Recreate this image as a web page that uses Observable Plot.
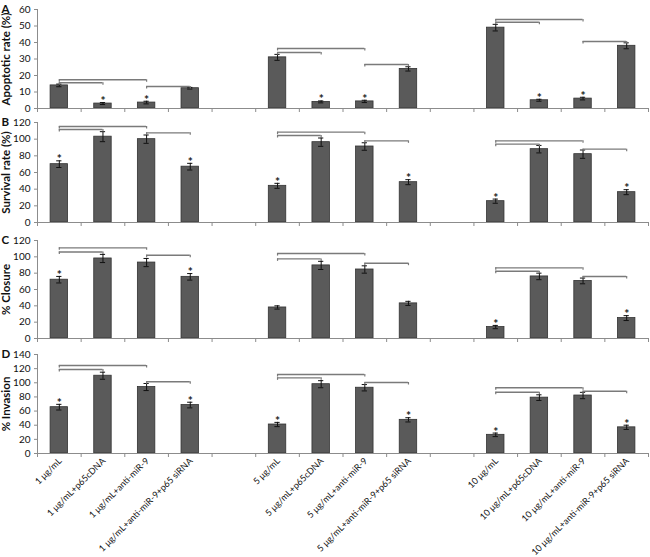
<!DOCTYPE html>
<html><head><meta charset="utf-8">
<script src="https://cdn.jsdelivr.net/npm/d3@7"></script>
<script src="https://cdn.jsdelivr.net/npm/@observablehq/plot@0.6"></script>
<style>
body{margin:0;background:#fff;}
#chart{width:650px;}
#chart svg{display:block;}
</style>
</head><body><div id="chart"></div>
<script>
// ---- data ----
const categories = [
  "1 μg/mL", "1 μg/mL+p65cDNA", "1 μg/mL+anti-miR-9", "1 μg/mL+anti-miR-9+p65 siRNA",
  "5 μg/mL", "5 μg/mL+p65cDNA", "5 μg/mL+anti-miR-9", "5 μg/mL+anti-miR-9+p65 siRNA",
  "10 μg/mL", "10 μg/mL+p65cDNA", "10 μg/mL+anti-miR-9", "10 μg/mL+anti-miR-9+p65 siRNA"
];

const apoptoticValues = [14, 3, 3.6, 12.3, 31, 4, 4.3, 24, 49, 5, 6, 38];
const apoptoticErrors = [0.8, 0.6, 0.8, 0.5, 1.8, 0.6, 0.7, 1.3, 2, 0.6, 0.8, 1.8];
const apoptoticStars = [1, 2, 5, 6, 9, 10];
const apoptoticBrackets = [[0, 2, 17.4], [0, 1, 15.6], [2, 3, 13.3], [4, 6, 36.4], [4, 5, 33.9], [6, 7, 26.7], [8, 10, 53.9], [8, 9, 52.3], [10, 11, 40.6]];
const apoptoticTicks = [0, 10, 20, 30, 40, 50, 60];

const survivalValues = [70, 103, 100, 67, 44, 96.4, 91.2, 48.4, 25.6, 88, 82, 36.4];
const survivalErrors = [4, 6, 5, 4, 3, 5, 4.5, 3, 2.5, 4.5, 5, 3];
const survivalStars = [0, 3, 4, 7, 8, 11];
const survivalBrackets = [[0, 2, 115.2], [0, 1, 111.6], [2, 3, 107.6], [4, 6, 108.4], [4, 5, 104.4], [6, 7, 98], [8, 10, 98], [8, 9, 94], [10, 11, 88]];
const survivalTicks = [0, 20, 40, 60, 80, 100, 120];

const closureValues = [72, 98, 93, 75.5, 38, 89.5, 84.5, 43, 14, 76, 70.5, 25];
const closureErrors = [4, 5, 5, 4, 2, 5, 4.5, 2.5, 2, 4, 3.5, 3];
const closureStars = [0, 3, 8, 11];
const closureBrackets = [[0, 2, 111], [0, 1, 106], [2, 3, 102], [4, 6, 104], [4, 5, 97.5], [6, 7, 92.2], [8, 10, 86.5], [8, 9, 82.4], [10, 11, 75.9]];
const closureTicks = [0, 20, 40, 60, 80, 100, 120];

const invasionValues = [65.5, 110, 94, 68.5, 41, 98, 93, 47.6, 26.4, 79, 82, 37];
const invasionErrors = [4, 5, 5, 4, 3, 5, 4.5, 3, 2.5, 4, 4.5, 3];
const invasionStars = [0, 3, 4, 7, 8, 11];
const invasionBrackets = [[0, 2, 124.5], [0, 1, 118.8], [2, 3, 101.4], [4, 6, 111.7], [4, 5, 107], [6, 7, 100.4], [8, 10, 92.9], [8, 9, 86.7], [10, 11, 88.1]];
const invasionTicks = [0, 20, 40, 60, 80, 100, 120, 140];

// ---- layout helpers ----
const slot = i => Math.floor(i / 4) * 5 + (i % 4) + 1;   // 3 groups of 4 with one blank slot between
const boundaries = d3.range(0.5, 14.6, 1);
const axisGray = "#8c8c8c";
const font = "Lato, 'Liberation Sans', sans-serif";

function panel({letter, title, values, errors, stars, brackets, yTicks, marginTop, marginBottom, height, labels}) {
  const data = categories.map((c, i) => ({cat: c, pos: slot(i), v: values[i], e: errors[i], star: stars.includes(i)}));
  const br = brackets.map(([a, b, y]) => ({x1: slot(a), x2: slot(b), y}));
  const marks = [
    Plot.rectY(data, {x1: d => d.pos - 0.2, x2: d => d.pos + 0.2, y1: 0, y2: "v", fill: "#5a5a5a", stroke: "#333", strokeWidth: 0.8}),
    Plot.ruleX(data, {x: "pos", y1: d => d.v - d.e, y2: d => d.v + d.e, stroke: "#111", strokeWidth: 1}),
    Plot.ruleY(data, {y: d => d.v + d.e, x1: d => d.pos - 0.06, x2: d => d.pos + 0.06, stroke: "#111", strokeWidth: 1}),
    Plot.ruleY(data, {y: d => d.v - d.e, x1: d => d.pos - 0.06, x2: d => d.pos + 0.06, stroke: "#111", strokeWidth: 1}),
    Plot.text(data.filter(d => d.star), {x: "pos", y: d => d.v + d.e, text: () => "*", lineAnchor: "bottom", dy: 2.5, fontSize: 12, fontWeight: "bold", fill: "#222"}),
    Plot.ruleY(br, {y: "y", x1: "x1", x2: "x2", stroke: "#7a7a7a", strokeWidth: 1.4}),
    Plot.ruleX(br, {x: "x1", y1: "y", y2: "y", insetBottom: -2.5, stroke: "#7a7a7a", strokeWidth: 1.2}),
    Plot.ruleX(br, {x: "x2", y1: "y", y2: "y", insetBottom: -2.5, stroke: "#7a7a7a", strokeWidth: 1.2}),
    Plot.ruleY([0], {stroke: axisGray}),
    Plot.ruleX([0.5], {stroke: axisGray}),
    Plot.axisX(boundaries, {tickFormat: () => "", tickSize: 4, stroke: axisGray, label: null}),
    Plot.axisY(yTicks, {tickSize: 3, tickPadding: 4, fontSize: 10, stroke: axisGray, fill: "#111", label: null}),
    Plot.text([title], {frameAnchor: "left", text: d => d, rotate: -90, textAnchor: "middle", lineAnchor: "middle", dx: -31, fontSize: 11.5, fontWeight: "bold", fill: "#111"}),
    Plot.text([letter], {frameAnchor: "top-left", text: d => d, textAnchor: "start", lineAnchor: "middle", dx: -36, fontSize: 11.5, fontWeight: "bold", fill: "#111"})
  ];
  if (labels) {
    marks.push(Plot.text(data, {x: "pos", frameAnchor: "bottom", text: "cat", rotate: -45, textAnchor: "end", dx: 3, dy: 8, fontSize: 9, fill: "#111"}));
  }
  return Plot.plot({
    width: 650, height, marginLeft: 37, marginRight: 2, marginTop, marginBottom,
    x: {domain: [0.5, 14.5]},
    y: {domain: [0, yTicks[yTicks.length - 1]]},
    style: {fontFamily: font, background: "white", overflow: "visible"},
    marks
  });
}

const root = document.getElementById("chart");
root.append(panel({letter: "A", title: "Apoptotic rate (%)", values: apoptoticValues, errors: apoptoticErrors, stars: apoptoticStars, brackets: apoptoticBrackets, yTicks: apoptoticTicks, marginTop: 9, marginBottom: 7, height: 115}));
root.append(panel({letter: "B", title: "Survival rate (%)", values: survivalValues, errors: survivalErrors, stars: survivalStars, brackets: survivalBrackets, yTicks: survivalTicks, marginTop: 7, marginBottom: 8, height: 115}));
root.append(panel({letter: "C", title: "% Closure", values: closureValues, errors: closureErrors, stars: closureStars, brackets: closureBrackets, yTicks: closureTicks, marginTop: 10, marginBottom: 7, height: 115}));
root.append(panel({letter: "D", title: "% Invasion", values: invasionValues, errors: invasionErrors, stars: invasionStars, brackets: invasionBrackets, yTicks: invasionTicks, marginTop: 9, marginBottom: 104, height: 212, labels: true}));
</script>
</body></html>
